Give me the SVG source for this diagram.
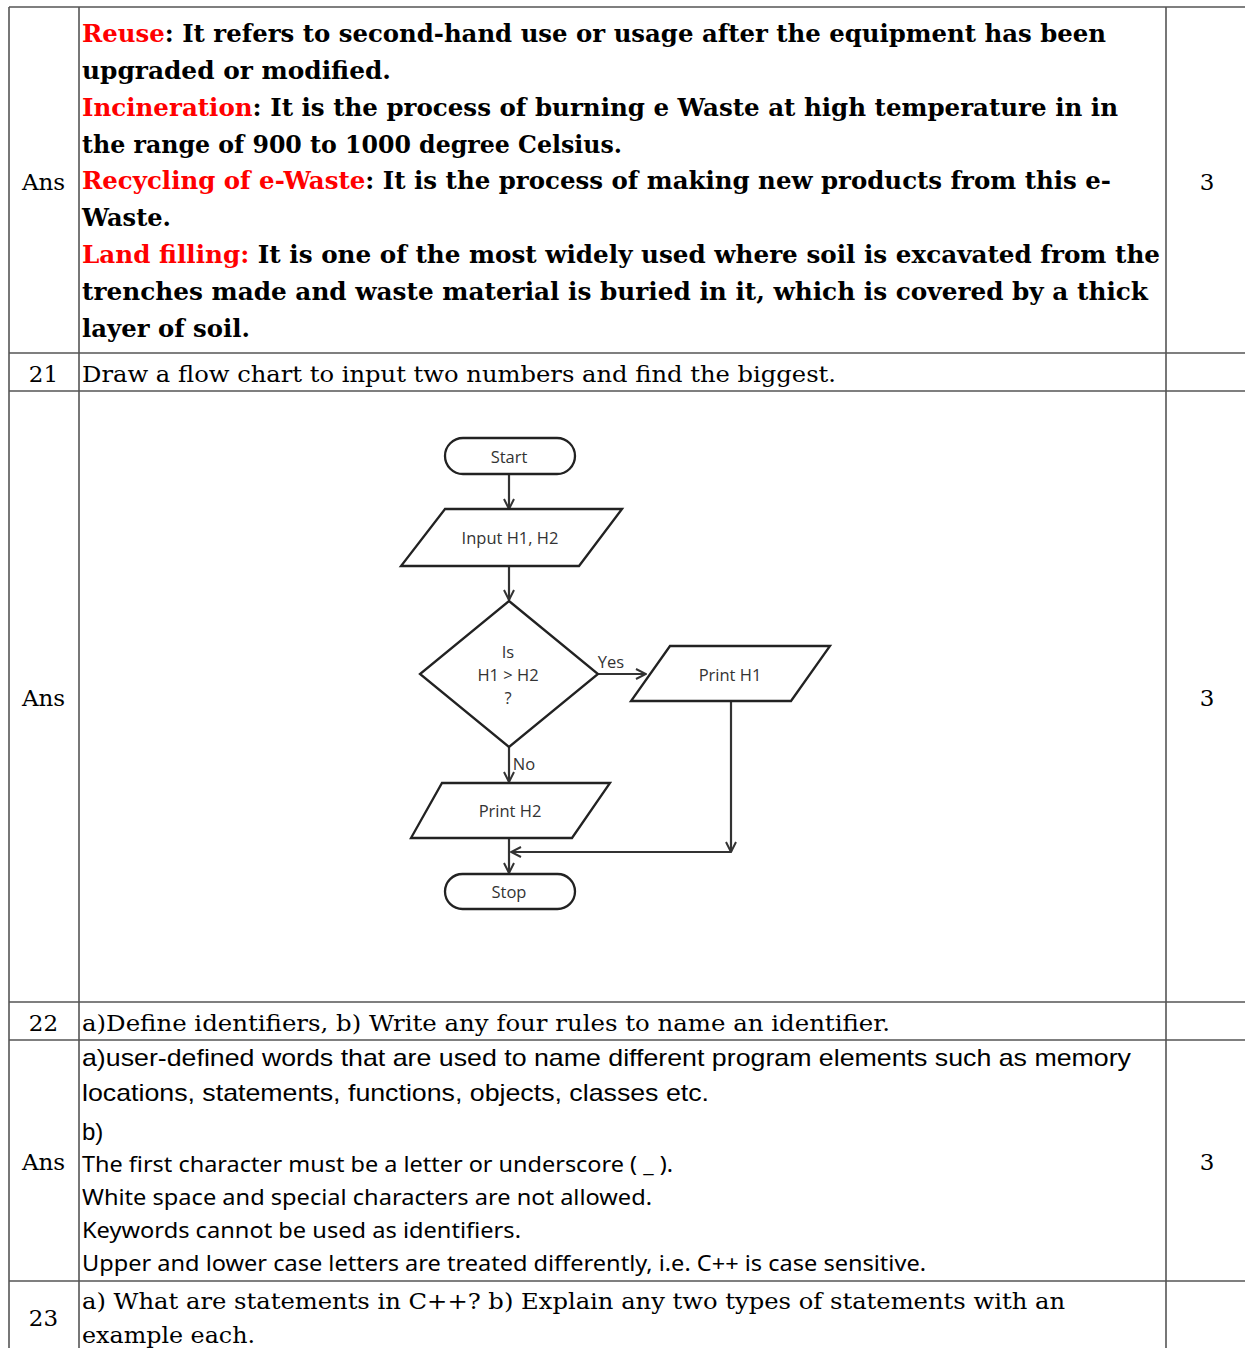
<svg xmlns="http://www.w3.org/2000/svg" width="1245" height="1348" viewBox="0 0 1245 1348">
<defs>
<style>
.grid{stroke:#555;stroke-width:1.6;fill:none}
.b{font-family:"DejaVu Serif","Liberation Serif",serif;font-weight:bold;font-size:24px;fill:#000}
.r{fill:#ff0000}
.s{font-family:"DejaVu Serif","Liberation Serif",serif;font-size:23px;fill:#000}
.h{font-family:"Liberation Sans",Arial,sans-serif;font-size:24px;fill:#000}
.n{font-family:"Noto Sans","Open Sans",sans-serif;font-size:22px;fill:#000}
.shape{fill:#fff;stroke:#222;stroke-width:2.3}
.fl{font-family:"Open Sans","Noto Sans",sans-serif;font-size:16.5px;fill:#333;text-anchor:middle;dominant-baseline:central}
.con{stroke:#333;stroke-width:2.2;fill:none}
</style>
<marker id="ah" viewBox="0 0 12 12" refX="11" refY="6" markerWidth="12" markerHeight="12" markerUnits="userSpaceOnUse" orient="auto">
<path d="M1,1 L11,6 L1,11" fill="none" stroke="#333" stroke-width="2"/>
</marker>
</defs>
<rect width="1245" height="1348" fill="#fff"/>
<g id="table">
<line class="grid" x1="9" y1="7" x2="1245" y2="7"/>
<line class="grid" x1="9" y1="7" x2="9" y2="1348"/>
<line class="grid" x1="79" y1="7" x2="79" y2="1348"/>
<line class="grid" x1="1166" y1="7" x2="1166" y2="1348"/>
<line class="grid" x1="9" y1="353" x2="1245" y2="353"/>
<line class="grid" x1="9" y1="391" x2="1245" y2="391"/>
<line class="grid" x1="9" y1="1002" x2="1245" y2="1002"/>
<line class="grid" x1="9" y1="1040" x2="1245" y2="1040"/>
<line class="grid" x1="9" y1="1281" x2="1245" y2="1281"/>
</g>
<g id="row20">
<text class="s" x="43.5" y="190" text-anchor="middle">Ans</text>
<text class="s" x="1207" y="190" text-anchor="middle">3</text>
<text class="b" x="82" y="42" textLength="1024" lengthAdjust="spacingAndGlyphs"><tspan class="r">Reuse</tspan>: It refers to second-hand use or usage after the equipment has been</text>
<text class="b" x="82" y="79" textLength="309" lengthAdjust="spacingAndGlyphs">upgraded or modified.</text>
<text class="b" x="82" y="116" textLength="1036" lengthAdjust="spacingAndGlyphs"><tspan class="r">Incineration</tspan>: It is the process of burning e Waste at high temperature in in</text>
<text class="b" x="82" y="153" textLength="540" lengthAdjust="spacingAndGlyphs">the range of 900 to 1000 degree Celsius.</text>
<text class="b" x="82" y="189" textLength="1029" lengthAdjust="spacingAndGlyphs"><tspan class="r">Recycling of e-Waste</tspan>: It is the process of making new products from this e-</text>
<text class="b" x="82" y="226" textLength="89" lengthAdjust="spacingAndGlyphs">Waste.</text>
<text class="b" x="82" y="263" textLength="1078" lengthAdjust="spacingAndGlyphs"><tspan class="r">Land filling:</tspan> It is one of the most widely used where soil is excavated from the</text>
<text class="b" x="82" y="300" textLength="1066" lengthAdjust="spacingAndGlyphs">trenches made and waste material is buried in it, which is covered by a thick</text>
<text class="b" x="82" y="337" textLength="168" lengthAdjust="spacingAndGlyphs">layer of soil.</text>
</g>
<g id="row21">
<text class="s" x="43.5" y="382" text-anchor="middle">21</text>
<text class="s" x="82" y="382" textLength="754" lengthAdjust="spacingAndGlyphs">Draw a flow chart to input two numbers and find the biggest.</text>
<text class="s" x="43.5" y="706" text-anchor="middle">Ans</text>
<text class="s" x="1207" y="706" text-anchor="middle">3</text>
</g>
<g id="flowchart">
<g id="connectors">
<line class="con" x1="509" y1="474" x2="509" y2="509" marker-end="url(#ah)"/>
<line class="con" x1="509" y1="566" x2="509" y2="600" marker-end="url(#ah)"/>
<line class="con" x1="598" y1="674" x2="646" y2="674" marker-end="url(#ah)"/>
<line class="con" x1="509" y1="747" x2="509" y2="782" marker-end="url(#ah)"/>
<line class="con" x1="731" y1="700" x2="731" y2="852" marker-end="url(#ah)"/>
<line class="con" x1="731" y1="852" x2="511" y2="852" marker-end="url(#ah)"/>
<line class="con" x1="509" y1="838" x2="509" y2="873" marker-end="url(#ah)"/>
<text class="fl" x="611" y="661">Yes</text>
<text class="fl" x="524" y="763">No</text>
</g>
<g id="start">
<rect class="shape" x="445" y="438" width="130" height="36" rx="18"/>
<text class="fl" x="509" y="456">Start</text>
</g>
<g id="input">
<polygon class="shape" points="445,509 622,509 579,566 401,566"/>
<text class="fl" x="510" y="537">Input  H1, H2</text>
</g>
<g id="decision">
<polygon class="shape" points="509,601 598,674 509,747 420,674"/>
<text class="fl" x="508" y="651">Is</text>
<text class="fl" x="508" y="674">H1 &gt; H2</text>
<text class="fl" x="508" y="697">?</text>
</g>
<g id="printH1">
<polygon class="shape" points="670,646 830,646 791,701 631,701"/>
<text class="fl" x="730" y="674">Print  H1</text>
</g>
<g id="printH2">
<polygon class="shape" points="442,783 610,783 572,838 411,838"/>
<text class="fl" x="510" y="810">Print  H2</text>
</g>
<g id="stop">
<rect class="shape" x="445" y="874" width="130" height="35" rx="17.5"/>
<text class="fl" x="509" y="891">Stop</text>
</g>
</g>
<g id="row22">
<text class="s" x="43.5" y="1031" text-anchor="middle">22</text>
<text class="s" x="82" y="1031" textLength="808" lengthAdjust="spacingAndGlyphs">a)Define identifiers, b) Write any four rules to name an identifier.</text>
<text class="s" x="43.5" y="1170" text-anchor="middle">Ans</text>
<text class="s" x="1207" y="1170" text-anchor="middle">3</text>
<text class="h" x="82" y="1066" textLength="1049" lengthAdjust="spacingAndGlyphs">a)user-defined words that are used to name different program elements such as memory</text>
<text class="h" x="82" y="1101" textLength="627" lengthAdjust="spacingAndGlyphs">locations, statements, functions, objects, classes etc.</text>
<text class="h" x="82" y="1140">b)</text>
<text class="n" x="82" y="1172" textLength="591" lengthAdjust="spacingAndGlyphs">The first character must be a letter or underscore ( _ ).</text>
<text class="n" x="82" y="1205" textLength="570" lengthAdjust="spacingAndGlyphs">White space and special characters are not allowed.</text>
<text class="n" x="82" y="1238" textLength="439" lengthAdjust="spacingAndGlyphs">Keywords cannot be used as identifiers.</text>
<text class="n" x="82" y="1271" textLength="844" lengthAdjust="spacingAndGlyphs">Upper and lower case letters are treated differently, i.e. C++ is case sensitive.</text>
</g>
<g id="row23">
<text class="s" x="43.5" y="1326" text-anchor="middle">23</text>
<text class="s" x="82" y="1309" textLength="983" lengthAdjust="spacingAndGlyphs">a) What are statements in C++? b) Explain any two types of statements with an</text>
<text class="s" x="82" y="1343" textLength="173" lengthAdjust="spacingAndGlyphs">example each.</text>
</g>
</svg>
